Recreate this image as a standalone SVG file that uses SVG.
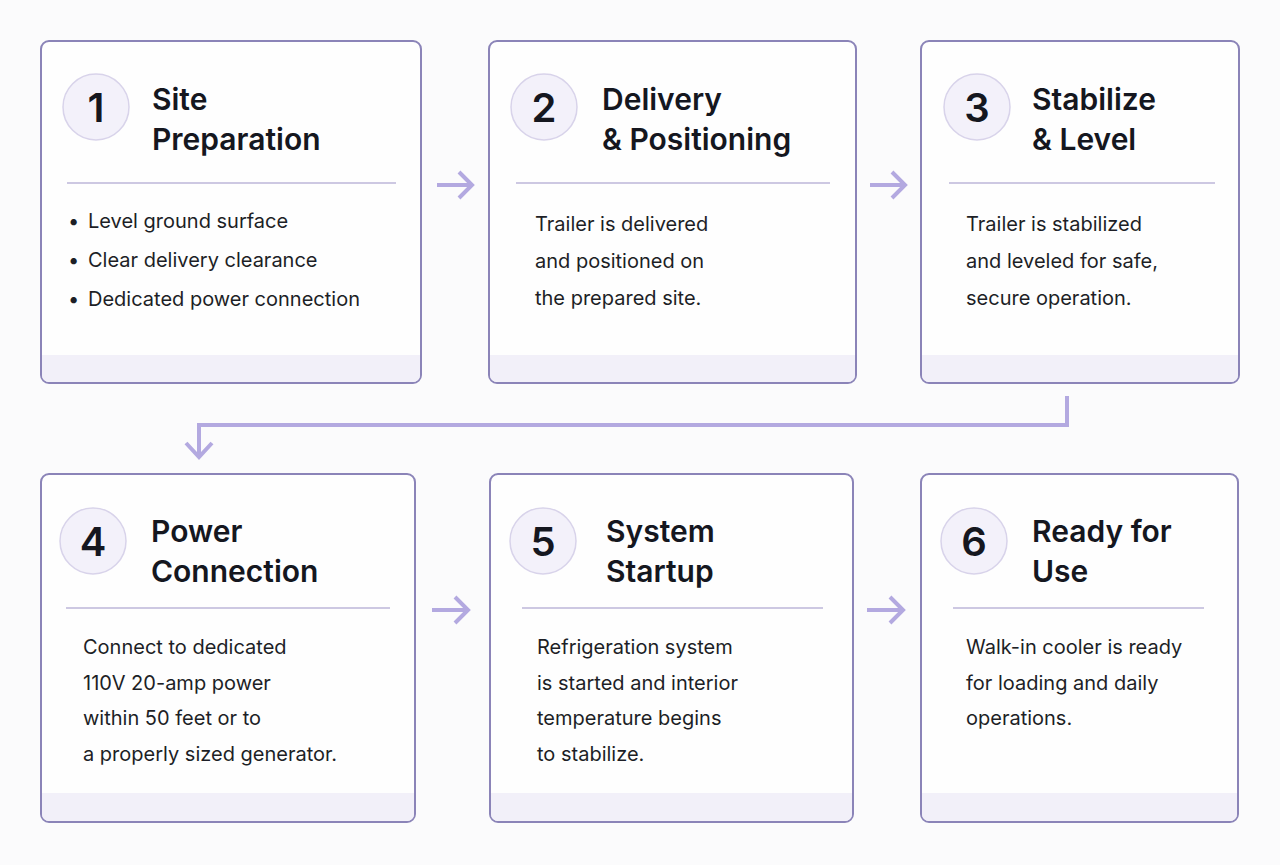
<svg xmlns="http://www.w3.org/2000/svg" width="1280" height="865" viewBox="0 0 1280 865">
<style>
.card{fill:#fefefe;stroke:#8b84b8;stroke-width:2}
.band{fill:#f2f0f9}
.circ{fill:#f3f1fa;stroke:#d8d3ea;stroke-width:1.5}
.num{font:600 40px Inter,"Liberation Sans",sans-serif;fill:#15171f;text-anchor:middle}
.ttl{font:600 30px Inter,"Liberation Sans",sans-serif;fill:#15171f}
.txt{font:400 20px Inter,"Liberation Sans",sans-serif;fill:#1d1f26}
.div{stroke:#bdb6d9;stroke-width:1.5}
.arr{stroke:#b3a9e0;stroke-width:4;fill:none}
</style>
<rect width="1280" height="865" fill="#fbfbfc"/>
<g id="connectors" class="arr">
<path d="M437 185H470M459 172L472 185L459 198"/>
<path d="M870 185H903M892 172L905 185L892 198"/>
<path d="M1067 396V425H199V456M186 443L199 457L212 443"/>
<path d="M432 610H466M455 597L468 610L455 623"/>
<path d="M867 610H901M890 597L903 610L890 623"/>
</g>
<g id="n1">
<rect class="card" x="41" y="41" width="380" height="342" rx="8"/>
<path class="band" d="M42 355H420V375a7 7 0 0 1-7 7H49a7 7 0 0 1-7-7Z"/>
<circle class="circ" cx="96" cy="107" r="33"/><text class="num" x="96" y="122">1</text>
<text class="ttl" x="152" y="110">Site</text><text class="ttl" x="152" y="150">Preparation</text>
<line class="div" x1="67" y1="183" x2="396" y2="183"/>
<text class="txt" x="68" y="228">•</text><text class="txt" x="88" y="228">Level ground surface</text>
<text class="txt" x="68" y="267">•</text><text class="txt" x="88" y="267">Clear delivery clearance</text>
<text class="txt" x="68" y="306">•</text><text class="txt" x="88" y="306">Dedicated power connection</text>
</g>
<g id="n2">
<rect class="card" x="489" y="41" width="367" height="342" rx="8"/>
<path class="band" d="M490 355H855V375a7 7 0 0 1-7 7H497a7 7 0 0 1-7-7Z"/>
<circle class="circ" cx="544" cy="107" r="33"/><text class="num" x="544" y="122">2</text>
<text class="ttl" x="602" y="110">Delivery</text><text class="ttl" x="602" y="150">&amp; Positioning</text>
<line class="div" x1="516" y1="183" x2="830" y2="183"/>
<text class="txt" x="535" y="231">Trailer is delivered</text>
<text class="txt" x="535" y="268">and positioned on</text>
<text class="txt" x="535" y="305">the prepared site.</text>
</g>
<g id="n3">
<rect class="card" x="921" y="41" width="318" height="342" rx="8"/>
<path class="band" d="M922 355H1238V375a7 7 0 0 1-7 7H929a7 7 0 0 1-7-7Z"/>
<circle class="circ" cx="977" cy="107" r="33"/><text class="num" x="977" y="122">3</text>
<text class="ttl" x="1032" y="110">Stabilize</text><text class="ttl" x="1032" y="150">&amp; Level</text>
<line class="div" x1="949" y1="183" x2="1215" y2="183"/>
<text class="txt" x="966" y="231">Trailer is stabilized</text>
<text class="txt" x="966" y="268">and leveled for safe,</text>
<text class="txt" x="966" y="305">secure operation.</text>
</g>
<g id="n4">
<rect class="card" x="41" y="474" width="374" height="348" rx="8"/>
<path class="band" d="M42 793H414V814a7 7 0 0 1-7 7H49a7 7 0 0 1-7-7Z"/>
<circle class="circ" cx="93" cy="541" r="33"/><text class="num" x="93" y="556">4</text>
<text class="ttl" x="151" y="542">Power</text><text class="ttl" x="151" y="582">Connection</text>
<line class="div" x1="66" y1="608" x2="390" y2="608"/>
<text class="txt" x="83" y="654">Connect to dedicated</text>
<text class="txt" x="83" y="690">110V 20-amp power</text>
<text class="txt" x="83" y="725">within 50 feet or to</text>
<text class="txt" x="83" y="761">a properly sized generator.</text>
</g>
<g id="n5">
<rect class="card" x="490" y="474" width="363" height="348" rx="8"/>
<path class="band" d="M491 793H852V814a7 7 0 0 1-7 7H498a7 7 0 0 1-7-7Z"/>
<circle class="circ" cx="543" cy="541" r="33"/><text class="num" x="543" y="556">5</text>
<text class="ttl" x="606" y="542">System</text><text class="ttl" x="606" y="582">Startup</text>
<line class="div" x1="522" y1="608" x2="823" y2="608"/>
<text class="txt" x="537" y="654">Refrigeration system</text>
<text class="txt" x="537" y="690">is started and interior</text>
<text class="txt" x="537" y="725">temperature begins</text>
<text class="txt" x="537" y="761">to stabilize.</text>
</g>
<g id="n6">
<rect class="card" x="921" y="474" width="317" height="348" rx="8"/>
<path class="band" d="M922 793H1237V814a7 7 0 0 1-7 7H929a7 7 0 0 1-7-7Z"/>
<circle class="circ" cx="974" cy="541" r="33"/><text class="num" x="974" y="556">6</text>
<text class="ttl" x="1032" y="542">Ready for</text><text class="ttl" x="1032" y="582">Use</text>
<line class="div" x1="953" y1="608" x2="1204" y2="608"/>
<text class="txt" x="966" y="654">Walk-in cooler is ready</text>
<text class="txt" x="966" y="690">for loading and daily</text>
<text class="txt" x="966" y="725">operations.</text>
</g>
</svg>
